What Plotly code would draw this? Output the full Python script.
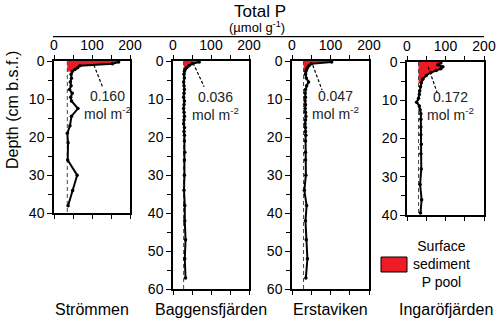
import plotly.graph_objects as go

# site names and surface P pool sizes
sites = ["Strömmen", "Baggensfjärden", "Erstaviken", "Ingaröfjärden"]
pools = ["0.160", "0.036", "0.047", "0.172"]
background = [35, 28, 30, 30]        # dashed background TP (µmol/g)
pool_depth = [2.75, 2.75, 2.75, 5.5]  # depth of surface pool base (cm)
max_depth = [40, 60, 60, 40]

# depth profiles (cm b.s.f.) and total P (µmol/g)
depth_strommen = [0.25, 0.75, 1.25, 1.75, 2.25, 2.75, 3.5, 4.5, 5.5, 6.5, 7.5, 8.5,
                  9.5, 10.5, 12.5, 14.5, 17, 19, 21.5, 26, 30, 34, 38]
tp_strommen = [170, 154, 68, 62, 55, 48, 45, 46, 43, 45, 41, 48,
               44, 46, 63, 46, 42, 35, 37, 36, 61, 49, 37]

depth_baggens = [0.25, 0.75, 1.25, 1.75, 2.25, 2.75, 3.5, 4.5, 5.5, 6.5, 7.5, 8.5,
                 9.5, 10.5, 11.5, 12.5, 13.5, 14.5, 15.5, 16.5, 17.5, 18.5, 19.5,
                 21, 24, 26, 30, 34, 38, 42, 47, 52, 57]
tp_baggens = [69, 50, 42, 36, 32, 30, 29, 30, 28, 29, 30, 29,
              28, 30, 29, 28, 29, 30, 29, 28, 30, 29, 30,
              30, 31, 30, 30, 29, 31, 31, 33, 31, 33]

depth_erstaviken = [0.25, 0.75, 1.25, 1.75, 2.25, 2.75, 3.5, 4.5, 5.5, 6.5, 7.5, 8.5,
                    9.5, 10.5, 11.5, 12.5, 13.5, 14.5, 15.5, 16.5, 17.5, 18.5, 19.5,
                    21, 24, 26, 30, 34, 38, 42, 47, 52, 57]
tp_erstaviken = [103, 50, 44, 40, 38, 36, 35, 37, 43, 38, 35, 34,
                 35, 34, 35, 34, 35, 36, 35, 34, 35, 35, 36,
                 35, 35, 35, 36, 32, 38, 35, 37, 40, 36]

depth_ingaro = [0.25, 0.75, 1.25, 1.75, 2.25, 2.75, 3.5, 4.5, 5.5, 6.5, 7.5, 8.5,
                9.5, 10.5, 11.5, 12.5, 13.5, 15, 17, 19, 21.5, 24, 28, 32, 36, 39.5]
tp_ingaro = [88, 80, 93, 88, 76, 62, 50, 41, 37, 35, 33, 32,
             30, 25, 32, 34, 36, 36, 36, 36, 37, 36, 37, 34, 38, 35]

depths = [depth_strommen, depth_baggens, depth_erstaviken, depth_ingaro]
values = [tp_strommen, tp_baggens, tp_erstaviken, tp_ingaro]

FONT = "Liberation Sans, Arial, sans-serif"
RED = "#ED1C24"
W, H = 500, 326

# panel pixel boxes (left, right, top, bottom)
boxes = [(54, 130, 61, 213.3), (173, 249, 61, 289.3),
         (292, 369, 61, 289.3), (407, 484, 62, 215)]
# leader line start/end and label position, in data units
leaders = [((105, 1.05), (129, 7.1), (141, 11.6)),
           ((53, 0.5), (82, 6.8), (112, 11.7)),
           ((54, 1.1), (78, 7.6), (113, 11.5)),
           ((55, 1.3), (78, 7.9), (114, 11.4))]


def label(x, y, text, size, **kw):
    return dict(xref="paper", yref="paper", x=x / W, y=1 - y / H, text=text,
                showarrow=False, xanchor="center", yanchor="middle",
                font=dict(family=FONT, size=size, color="black"), **kw)


fig = go.Figure()
shapes = []
annotations = []
layout = {}

for i in range(4):
    n = "" if i == 0 else str(i + 1)
    xa, ya = "x" + n, "y" + n
    d, v, bg = depths[i], values[i], background[i]

    # surface sediment P pool (red area between profile and background)
    pd_ = [dd for dd in d if dd <= pool_depth[i]]
    pv = v[:len(pd_)]
    fx = [bg, pv[0]] + pv + [bg, bg]
    fy = [0, 0] + pd_ + [pd_[-1], 0]
    fig.add_trace(go.Scatter(x=fx, y=fy, xaxis=xa, yaxis=ya, mode="lines",
                             fill="toself", fillcolor=RED,
                             line=dict(width=0), hoverinfo="skip",
                             showlegend=False))
    # background dashed line
    fig.add_trace(go.Scatter(x=[bg, bg], y=[0, max_depth[i]], xaxis=xa, yaxis=ya,
                             mode="lines", line=dict(color="#444", width=1, dash="4px,3px"),
                             showlegend=False, hoverinfo="skip"))
    # profile
    fig.add_trace(go.Scatter(x=v, y=d, xaxis=xa, yaxis=ya, mode="lines+markers",
                             line=dict(color="black", width=2),
                             marker=dict(color="black", size=3.5),
                             showlegend=False, cliponaxis=False))

    l, r, t, b = boxes[i]
    layout["xaxis" + n] = dict(
        domain=[l / W, r / W], anchor=ya, side="top", range=[0, 200],
        tickvals=[0, 50, 100, 150, 200], ticktext=["0", "", "100", "", "200"],
        ticks="outside", ticklen=4, tickwidth=1.2, tickcolor="black",
        showline=True, linecolor="black", linewidth=1.5, mirror="ticks",
        showgrid=False, zeroline=False,
        tickfont=dict(family=FONT, size=14, color="black"),
    )
    layout["yaxis" + n] = dict(
        domain=[1 - b / H, 1 - t / H], anchor=xa, range=[max_depth[i], 0],
        dtick=10, ticks="outside", ticklen=5, tickwidth=1.2, tickcolor="black",
        minor=dict(dtick=5, ticks="outside", ticklen=4, tickwidth=1.2, tickcolor="black"),
        showline=True, linecolor="black", linewidth=1.5, mirror=True,
        showgrid=False, zeroline=False,
        tickfont=dict(family=FONT, size=14, color="black"),
    )

    (x0, y0), (x1, y1), (tx, ty) = leaders[i]
    shapes.append(dict(type="line", xref=xa, yref=ya, x0=x0, y0=y0, x1=x1, y1=y1,
                       line=dict(color="black", width=1.2, dash="3px,2px")))
    annotations.append(dict(xref=xa, yref=ya, x=tx, y=ty, showarrow=False,
                            xanchor="center", yanchor="middle",
                            text=pools[i] + "<br>mol m<sup>-2</sup>",
                            font=dict(family=FONT, size=14, color="#222")))
    annotations.append(label((l + r) / 2, 309, sites[i], 16))

# header line and titles
shapes.append(dict(type="line", xref="paper", yref="paper", x0=53 / W, x1=484 / W,
                   y0=1 - 36.7 / H, y1=1 - 36.7 / H, line=dict(color="black", width=1.2)))
annotations.append(label(260, 11, "Total P", 17))
annotations.append(label(257, 27.5, "(µmol g<sup>-1</sup>)", 13))
annotations.append(label(12, 110, "Depth (cm b.s.f.)", 16, textangle=-90))

# legend
shapes.append(dict(type="rect", xref="paper", yref="paper", x0=381 / W, x1=407 / W,
                   y0=1 - 272 / H, y1=1 - 257 / H, fillcolor=RED,
                   line=dict(color="black", width=1)))
annotations.append(label(441, 264, "Surface<br>sediment<br>P pool", 14))

fig.update_layout(
    width=W, height=H,
    margin=dict(l=0, r=0, t=0, b=0, pad=0, autoexpand=False),
    plot_bgcolor="white", paper_bgcolor="white",
    shapes=shapes, annotations=annotations, **layout,
)

fig.write_html("out.html", config={"displayModeBar": False},
               post_script="document.body.style.margin='0px';")
